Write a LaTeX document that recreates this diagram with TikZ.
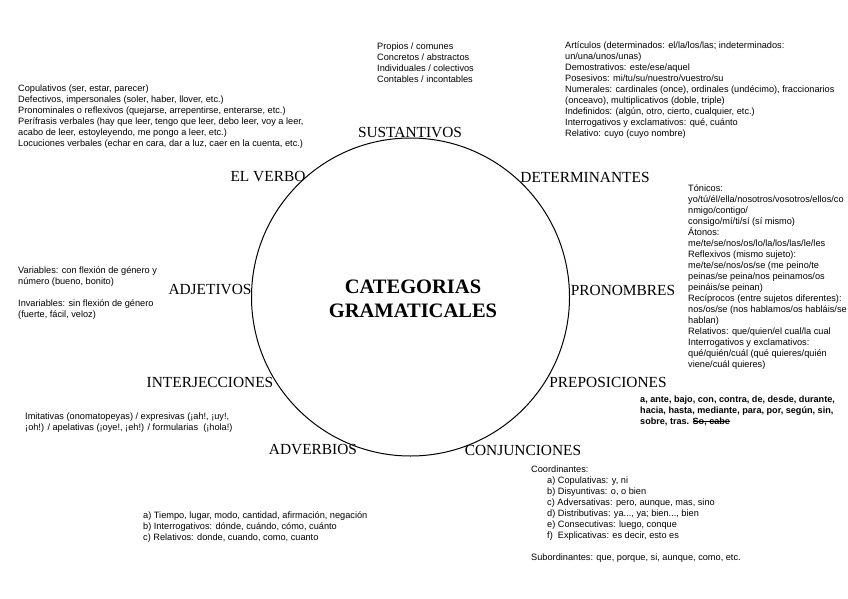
\documentclass[tikz,border=0pt]{standalone}
\usepackage{fontspec}
\setmainfont{Liberation Serif}
\newfontfamily\arialfont{Liberation Sans}
\usepackage{tikz}
\usetikzlibrary{positioning}

\newcommand\tachado[1]{\setbox0\hbox{#1}\rlap{\rule[2.6pt]{\wd0}{0.7pt}}\box0}

\begin{document}
\begin{tikzpicture}[
    x=1pt, y=-1pt,
    catlabel/.style={inner sep=0pt, font=\fontsize{15.4}{18}\selectfont},
    infotext/.style={inner sep=0pt, anchor=north west, align=left, font=\arialfont\fontsize{9.2}{11}\selectfont},
    boldtext/.style={infotext, font=\arialfont\bfseries\fontsize{9.1}{11}\selectfont},
    titletext/.style={inner sep=0pt, align=center, font=\bfseries\fontsize{20.5}{24}\selectfont}
]
\useasboundingbox (0,0) rectangle (848,599);

% Circle and title
\node[draw, circle, line width=1pt, minimum size=318pt, inner sep=0pt] (circulo) at (410.5,297) {};
\node[titletext] (titulo) at (413,299) {CATEGORIAS\\GRAMATICALES};

% Categories round the circle
\node[catlabel] (sust) at (410,133) {SUSTANTIVOS};
\node[catlabel] (verbo) at (268,177) {EL VERBO};
\node[catlabel] (det) at (585,177) {DETERMINANTES};
\node[catlabel] (adj) at (210,290) {ADJETIVOS};
\node[catlabel] (pron) at (623,290) {PRONOMBRES};
\node[catlabel] (interj) at (210,382) {INTERJECCIONES};
\node[catlabel] (prep) at (608,382) {PREPOSICIONES};
\node[catlabel] (adv) at (313,450) {ADVERBIOS};
\node[catlabel] (conj) at (523,450) {CONJUNCIONES};

% Sustantivos
\node[infotext] (sustinfo) at (377,43) {Propios / comunes\\
Concretos / abstractos\\
Individuales / colectivos\\
Contables / incontables};

% Determinantes
\node[infotext] (detinfo) at (565,42) {Artículos (determinados: el/la/los/las; indeterminados:\\
un/una/unos/unas)\\
Demostrativos: este/ese/aquel\\
Posesivos: mi/tu/su/nuestro/vuestro/su\\
Numerales: cardinales (once), ordinales (undécimo), fraccionarios\\
(onceavo), multiplicativos (doble, triple)\\
Indefinidos: (algún, otro, cierto, cualquier, etc.)\\
Interrogativos y exclamativos: qué, cuánto\\
Relativo: cuyo (cuyo nombre)};

% El verbo
\node[infotext] (verboinfo) at (18,85) {Copulativos (ser, estar, parecer)\\
Defectivos, impersonales (soler, haber, llover, etc.)\\
Pronominales o reflexivos (quejarse, arrepentirse, enterarse, etc.)\\
Perífrasis verbales (hay que leer, tengo que leer, debo leer, voy a leer,\\
acabo de leer, estoyleyendo, me pongo a leer, etc.)\\
Locuciones verbales (echar en cara, dar a luz, caer en la cuenta, etc.)};

% Pronombres
\node[infotext] (proninfo) at (688,185) {Tónicos:\\
yo/tú/él/ella/nosotros/vosotros/ellos/co\\
nmigo/contigo/\\
consigo/mí/ti/sí (sí mismo)\\
Átonos:\\
me/te/se/nos/os/lo/la/los/las/le/les\\
Reflexivos (mismo sujeto):\\
me/te/se/nos/os/se (me peino/te\\
peinas/se peina/nos peinamos/os\\
peináis/se peinan)\\
Recíprocos (entre sujetos diferentes):\\
nos/os/se (nos hablamos/os habláis/se\\
hablan)\\
Relativos: que/quien/el cual/la cual\\
Interrogativos y exclamativos:\\
qué/quién/cuál (qué quieres/quién\\
viene/cuál quieres)};

% Adjetivos
\node[infotext] (adjinfo) at (18,267) {Variables: con flexión de género y\\
número (bueno, bonito)\\[11pt]
Invariables: sin flexión de género\\
(fuerte, fácil, veloz)};

% Interjecciones
\node[infotext] (interjinfo) at (25,413) {Imitativas (onomatopeyas) / expresivas (¡ah!, ¡uy!,\\
¡oh!) / apelativas (¡oye!, ¡eh!) / formularias~~(¡hola!)};

% Preposiciones
\node[boldtext] (prepinfo) at (640,396) {a, ante, bajo, con, contra, de, desde, durante,\\
hacia, hasta, mediante, para, por, según, sin,\\
sobre, tras. \tachado{So, cabe}};

% Conjunciones
\node[infotext] (conjinfo) at (531,466) {Coordinantes:\\
\hspace*{16pt}a) Copulativas: y, ni\\
\hspace*{16pt}b) Disyuntivas: o, o bien\\
\hspace*{16pt}c) Adversativas: pero, aunque, mas, sino\\
\hspace*{16pt}d) Distributivas: ya..., ya; bien..., bien\\
\hspace*{16pt}e) Consecutivas: luego, conque\\
\hspace*{16pt}f)~~Explicativas: es decir, esto es\\[11pt]
Subordinantes: que, porque, si, aunque, como, etc.};

% Adverbios
\node[infotext] (advinfo) at (143,512) {a) Tiempo, lugar, modo, cantidad, afirmación, negación\\
b) Interrogativos: dónde, cuándo, cómo, cuánto\\
c) Relativos: donde, cuando, como, cuanto};

\end{tikzpicture}
\end{document}
